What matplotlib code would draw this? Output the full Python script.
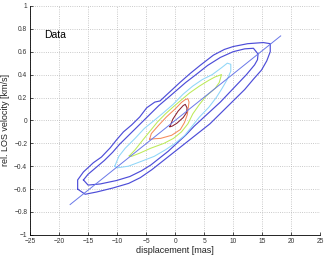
import matplotlib
matplotlib.use("Agg")
import matplotlib.pyplot as plt
import numpy as np

plt.rcParams['font.family'] = ['Liberation Sans', 'DejaVu Sans']

# contour lines (displacement [mas], velocity [km/s])
outer_x = [-16.8, -16.8, -15.8, -14.1, -12.7, -11.2, -10.1, -8.9, -7.5, -6.1, -4.9, -3.5,
           -2.6, -0.9, 0.8, 2.6, 4.3, 6.6, 8.5, 10.0, 12.5, 15.2, 16.4, 16.4, 15.8, 14.9,
           13.5, 12.0, 10.0, 8.0, 6.0, 4.0, 2.0, 0.0, -2.0, -4.0, -6.0,
           -8.0, -10.7, -13.5, -15.5, -16.8]
outer_y = [-0.60, -0.52, -0.45, -0.37, -0.32, -0.24, -0.17, -0.10, -0.04, 0.03, 0.11, 0.16,
           0.17, 0.25, 0.33, 0.41, 0.48, 0.57, 0.62, 0.645, 0.67, 0.68, 0.67, 0.60, 0.52, 0.44,
           0.36, 0.27, 0.17, 0.07, -0.03, -0.11, -0.19, -0.27, -0.35, -0.43, -0.50,
           -0.55, -0.59, -0.625, -0.645, -0.60]

inner_x = [-15.8, -15.0, -13.6, -12.2, -10.8, -9.6, -8.4, -7.0, -5.6, -4.2, -2.8, -1.4,
           0.2, 1.8, 3.6, 5.6, 7.8, 10.0, 12.0, 13.5, 14.3, 14.2, 13.7, 12.3, 10.8, 9.3,
           7.8, 6.3, 4.8, 3.3, 1.8, 0.3, -1.2, -2.7, -4.2, -5.8, -7.8, -10.1, -12.9, -15.0, -15.8]
inner_y = [-0.52, -0.47, -0.41, -0.35, -0.28, -0.21, -0.15, -0.08, -0.01, 0.06, 0.13, 0.19,
           0.26, 0.33, 0.40, 0.48, 0.55, 0.60, 0.625, 0.63, 0.58, 0.53, 0.485, 0.40, 0.32, 0.24,
           0.16, 0.09, 0.02, -0.05, -0.13, -0.20, -0.27, -0.33, -0.39, -0.44, -0.49, -0.525,
           -0.555, -0.565, -0.52]

cyan_x = [-10.4, -9.7, -8.6, -6.9, -5.3, -3.6, -1.94, -0.28, 1.4, 3.05, 4.7, 6.4, 8.0,
          9.0, 9.6, 9.6, 8.9, 8.1, 7.1, 5.8, 4.2, 3.05, 1.67, 0.0, -1.67, -3.6, -5.8,
          -8.05, -10.0, -10.4]
cyan_y = [-0.40, -0.314, -0.243, -0.157, -0.07, 0.0, 0.07, 0.143, 0.23, 0.30, 0.357, 0.40,
          0.46, 0.50, 0.49, 0.43, 0.35, 0.28, 0.20, 0.114, 0.03, -0.043, -0.13, -0.2,
          -0.257, -0.314, -0.357, -0.40, -0.414, -0.40]

green_x = [-7.9, -6.9, -5.55, -4.2, -3.05, -1.67, -0.28, 1.1, 2.5, 4.2, 5.8, 6.9, 8.0,
           7.6, 6.9, 5.3, 4.2, 3.05, 2.2, 1.1, -0.28, -1.9, -4.2, -6.1, -7.5, -7.9]
green_y = [-0.31, -0.257, -0.17, -0.086, -0.014, 0.057, 0.12, 0.18, 0.24, 0.30, 0.35, 0.38,
           0.40, 0.33, 0.28, 0.21, 0.14, 0.057, -0.03, -0.10, -0.157, -0.20, -0.243, -0.286,
           -0.314, -0.31]

orange_x = [-4.4, -4.1, -2.85, -1.5, 0.0, 1.1, 1.7, 2.2, 2.4, 2.1, 1.6, 0.9, 0.0, -0.6,
            -2.5, -3.5, -4.4]
orange_y = [-0.165, -0.115, -0.043, 0.03, 0.10, 0.157, 0.18, 0.19, 0.16, 0.05, -0.02,
            -0.08, -0.11, -0.13, -0.157, -0.16, -0.165]

red_x = [-0.9, -0.4, 0.5, 1.4, 1.75, 2.05, 2.0, 1.4, 0.3, -0.5, -0.9]
red_y = [-0.055, 0.01, 0.08, 0.13, 0.14, 0.11, 0.07, 0.025, -0.025, -0.05, -0.055]

fit_x = [-18.1, 18.2]
fit_y = [-0.735, 0.738]

fig = plt.figure(figsize=(3.27, 2.57), dpi=100)
ax = fig.add_axes([0.092, 0.086, 0.887, 0.891])

ax.plot(outer_x, outer_y, color='#4d4dd8', lw=0.85)
ax.plot(inner_x, inner_y, color='#4d4dd8', lw=0.85)
ax.plot(cyan_x, cyan_y, color='#8fd6f8', lw=0.75)
ax.plot(green_x, green_y, color='#bdea58', lw=0.75)
ax.plot(orange_x, orange_y, color='#f58a5c', lw=0.75)
ax.plot(red_x, red_y, color='#8a2030', lw=0.75)
ax.plot(fit_x, fit_y, color='#6a78e8', lw=0.7)

ax.text(-22.5, 0.75, 'Data', fontsize=7.5, va='center')

ax.set_xlim(-25, 25)
ax.set_ylim(-1, 1)
ax.set_xticks(np.arange(-25, 26, 5))
ax.set_yticks(np.arange(-1, 1.01, 0.2))
ax.set_yticklabels(['\u22121', '\u22120.8', '\u22120.6', '\u22120.4', '\u22120.2', '0',
                    '0.2', '0.4', '0.6', '0.8', '1'])
ax.tick_params(direction='in', length=2.5, width=0.6, labelsize=4.8, pad=2,
               colors='#333333')
ax.grid(True, linestyle=':', color='#b8b8b8', linewidth=0.6)
ax.spines['top'].set_visible(False)
ax.spines['right'].set_visible(False)
ax.spines['left'].set_linewidth(0.6)
ax.spines['bottom'].set_linewidth(0.6)
ax.set_xlabel('displacement [mas]', fontsize=6.5, labelpad=1, color='#222222')
ax.set_ylabel('rel. LOS velocity [km/s]', fontsize=6.5, labelpad=3, color='#222222')

fig.savefig('out.png', dpi=100)
